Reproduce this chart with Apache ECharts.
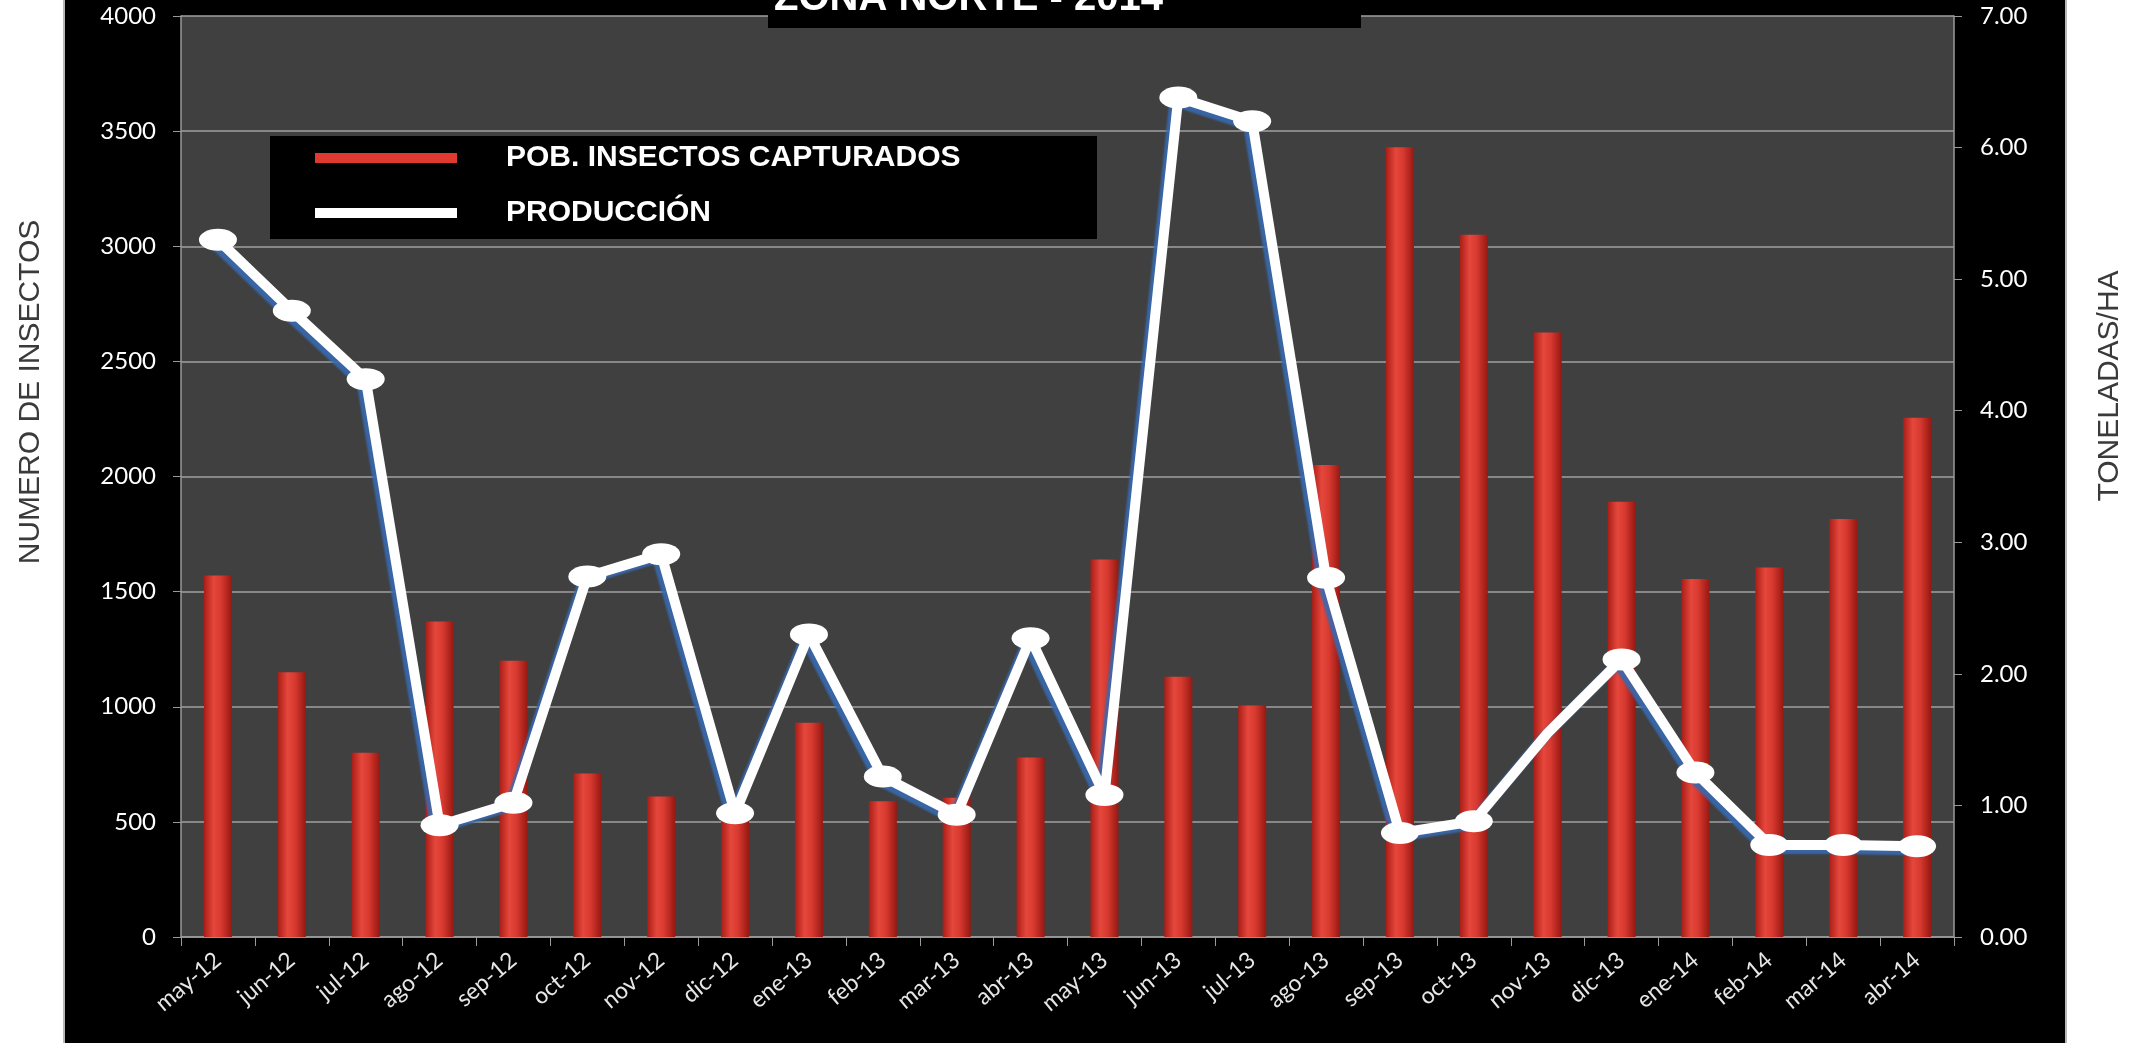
<!DOCTYPE html>
<html>
<head>
<meta charset="utf-8">
<script src="https://cdn.jsdelivr.net/npm/echarts@6/dist/echarts.min.js"></script>
<style>
  html, body { margin: 0; padding: 0; background: #fff; }
  #panel { position: absolute; left: 63px; top: 0; width: 2004px; height: 1043px; background: #000;
           border-left: 2px solid #b8b8b8; border-right: 2px solid #b8b8b8; box-sizing: border-box; }
  #main { position: absolute; left: 0; top: 0; width: 2138px; height: 1043px; }
</style>
</head>
<body>
<div id="panel"></div>
<div id="main"></div>
<script>
// meses
var meses = ['may-12', 'jun-12', 'jul-12', 'ago-12', 'sep-12', 'oct-12', 'nov-12', 'dic-12',
  'ene-13', 'feb-13', 'mar-13', 'abr-13', 'may-13', 'jun-13', 'jul-13', 'ago-13',
  'sep-13', 'oct-13', 'nov-13', 'dic-13', 'ene-14', 'feb-14', 'mar-14', 'abr-14'];
// numero de insectos (eje izq.)
var insectos = [1570, 1150, 800, 1370, 1200, 710, 610, 545, 930, 590, 605, 780,
  1640, 1130, 1005, 2050, 3430, 3050, 2625, 1890, 1555, 1605, 1815, 2255];
// toneladas / ha (eje der.)
var produccion = [5.30, 4.76, 4.24, 0.85, 1.02, 2.74, 2.91, 0.94, 2.30, 1.22, 0.93, 2.27,
  1.08, 6.38, 6.20, 2.73, 0.79, 0.88, 1.55, 2.11, 1.25, 0.70, 0.70, 0.69];
var sinMarcador = ['nov-13'];

var serieInsectos = 'POB. INSECTOS CAPTURADOS';
var serieProd = 'PRODUCCIÓN';

var chart = echarts.init(document.getElementById('main'), null, { renderer: 'canvas' });

var axisGray = '#9a9a9a';
var tickFont = 'Lato, "Open Sans", sans-serif';
var sans = '"Liberation Sans", Arial, sans-serif';

var option = {
  backgroundColor: 'transparent',
  animation: false,
  grid: {
    left: 181, right: 184, top: 16, bottom: 106,
    show: true, backgroundColor: '#404040', borderWidth: 0
  },
  legend: {
    orient: 'vertical',
    left: 270, top: 136,
    padding: [7, 0, 0, 45],
    itemWidth: 142, itemHeight: 10, itemGap: 25,
    z: 6,
    data: [
      { name: serieInsectos, icon: 'rect', itemStyle: { color: '#e03a30' } },
      { name: serieProd, icon: 'rect', itemStyle: { color: '#ffffff' } }
    ],
    textStyle: {
      color: '#fff', fontSize: 30, fontWeight: 'bold', fontFamily: sans,
      padding: [0, 0, 0, 44]
    },
    selectedMode: false
  },
  graphic: [
    { type: 'rect', z: 5, shape: { x: 270, y: 136, width: 827, height: 103 }, style: { fill: '#000' } },
    { type: 'rect', z: 5, shape: { x: 768, y: 0, width: 593, height: 28 }, style: { fill: '#000' } },
    { type: 'text', z: 6, x: 774, y: -1,
      style: { text: 'ZONA NORTE - 2014', fill: '#fff', fontSize: 40, fontWeight: 'bold',
        fontFamily: sans, textAlign: 'left', textVerticalAlign: 'middle' } },
    { type: 'text', z: 6, x: 31, y: 392, rotation: Math.PI / 2,
      style: { text: 'NUMERO DE INSECTOS', fill: '#3a3a3a', fontSize: 30,
        fontFamily: sans, textAlign: 'center', textVerticalAlign: 'middle' } },
    { type: 'text', z: 6, x: 2110, y: 386, rotation: Math.PI / 2,
      style: { text: 'TONELADAS/HA', fill: '#3a3a3a', fontSize: 30,
        fontFamily: sans, textAlign: 'center', textVerticalAlign: 'middle' } }
  ],
  xAxis: {
    type: 'category',
    data: meses,
    boundaryGap: true,
    axisLine: { show: true, lineStyle: { color: axisGray, width: 1.5 } },
    axisTick: { show: true, length: 9, lineStyle: { color: axisGray } },
    axisLabel: { color: '#e6e6e6', fontSize: 23, rotate: 40, margin: 20, fontFamily: tickFont, interval: 0 }
  },
  yAxis: [
    {
      type: 'value', min: 0, max: 4000, interval: 500,
      axisLine: { show: true, lineStyle: { color: axisGray, width: 1.5 } },
      axisTick: { show: true, length: 8, lineStyle: { color: axisGray } },
      axisLabel: { color: '#ffffff', fontSize: 24, margin: 25, fontFamily: tickFont,
        formatter: function (v) { return String(v); } },
      splitLine: { show: true, lineStyle: { color: '#a0a0a0', width: 1.5 } }
    },
    {
      type: 'value', min: 0, max: 7, interval: 1,
      axisLine: { show: true, lineStyle: { color: axisGray, width: 1.5 } },
      axisTick: { show: true, length: 8, lineStyle: { color: axisGray } },
      axisLabel: { color: '#ffffff', fontSize: 24, margin: 26, fontFamily: tickFont,
        formatter: function (v) { return v.toFixed(2); } },
      splitLine: { show: false }
    }
  ],
  series: [
    {
      name: serieInsectos,
      type: 'bar',
      yAxisIndex: 0,
      barWidth: 28,
      data: insectos,
      itemStyle: {
        color: new echarts.graphic.LinearGradient(0, 0, 1, 0, [
          { offset: 0, color: '#a91d16' },
          { offset: 0.35, color: '#e5473c' },
          { offset: 0.6, color: '#d93a30' },
          { offset: 1, color: '#961812' }
        ])
      }
    },
    {
      name: serieProd,
      type: 'line',
      yAxisIndex: 1,
      z: 3,
      data: produccion.map(function (v, i) {
        return sinMarcador.indexOf(meses[i]) >= 0 ? { value: v, symbol: 'none' } : v;
      }),
      symbol: 'circle',
      symbolSize: [38, 22],
      lineStyle: {
        color: '#ffffff', width: 10,
        shadowColor: 'rgba(55,105,175,0.9)', shadowBlur: 2, shadowOffsetX: -4, shadowOffsetY: 4
      },
      itemStyle: { color: '#ffffff', borderColor: '#ffffff', borderWidth: 0 }
    }
  ]
};

chart.setOption(option);
</script>
</body>
</html>
